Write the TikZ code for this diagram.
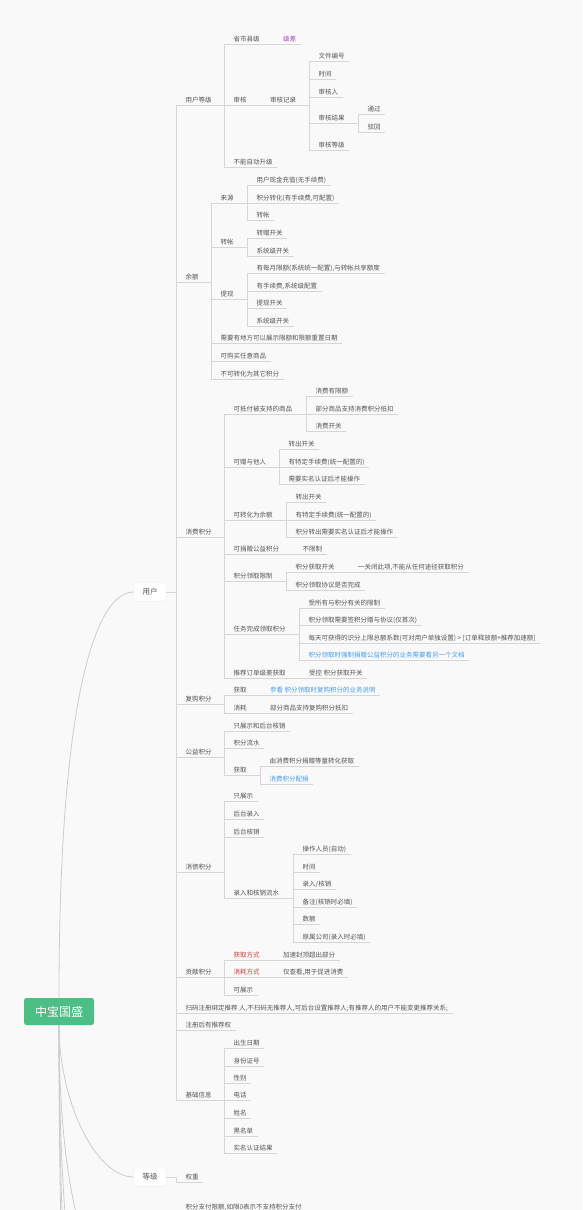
\documentclass[tikz,border=0pt]{standalone}
\usepackage{fontspec}
\newfontfamily\cjk{Noto Sans CJK SC}
\usetikzlibrary{positioning,shadows}
\definecolor{paper}{HTML}{F9F9F9}
\definecolor{ln}{HTML}{D6D6D6}
\definecolor{stemgray}{HTML}{CDCDCD}
\definecolor{txt}{HTML}{555555}
\definecolor{rootgreen}{HTML}{4DBF86}
\definecolor{linkblue}{HTML}{4A9EEB}
\definecolor{redtxt}{HTML}{CF3F35}
\definecolor{purpletxt}{HTML}{A647C6}
\newcommand{\fork}[3]{\draw[branch] ([xshift=-9.5pt]#1.south west) -| ([xshift=-9.5pt]#2.south west) ([xshift=-9.5pt]#1.south west) -| ([xshift=-9.5pt]#3.south west);}

\begin{document}
\begin{tikzpicture}[x=1pt,y=-1pt]
	\tikzset{
		topic/.style={anchor=south west,inner xsep=0pt,inner ysep=1.4pt,text height=5.6pt,text depth=1.3pt,font=\cjk\fontsize{6.5}{7}\selectfont,text=txt},
		branch/.style={draw=ln,line width=0.7pt},
		leaf/.style={topic,append after command={([xshift=-9.5pt]\tikzlastnode.south west) edge[branch] ([xshift=4.5pt]\tikzlastnode.south east)}},
		tail/.style={leaf,base right=23pt of #1},
		mainbox/.style={fill=white,draw=black!6,rounded corners=2pt,minimum width=32pt,minimum height=18pt,inner sep=0pt,font=\cjk\fontsize{7.5}{9}\selectfont,text=txt,drop shadow={opacity=0.06,shadow xshift=0pt,shadow yshift=-0.8pt}},
		rootbox/.style={fill=rootgreen,rounded corners=2.5pt,minimum width=70pt,minimum height=27pt,inner sep=0pt,font=\cjk\fontsize{12}{14}\selectfont,text=white},
		stem/.style={draw=stemgray,line width=0.8pt},
	}
	\useasboundingbox (0,0) rectangle (582,1210);
	\fill[paper] (0,0) rectangle (582,1210);
	\clip (0,0) rectangle (582,1210);

	\node[mainbox] (yh) at (150,592) {用户};
	\node[mainbox] (dj) at (150,1177) {等级};
	\node[rootbox] (root) at (59,1011.5) {中宝国盛};
	\coordinate (more1) at (134,1300);
	\coordinate (more2) at (134,1450);
	\coordinate (more3) at (134,1600);
	\coordinate (more4) at (134,1800);
	\draw[stem] (root.north) .. controls (59,700) and (95,592) .. (yh.west);
	\draw[stem] (root.south) .. controls (59,1100) and (95,1177) .. (dj.west);
	\draw[stem] (root.south) .. controls (59,1217) and (95,1300) .. (more1);
	\draw[stem] (root.south) .. controls (59,1322) and (95,1450) .. (more2);
	\draw[stem] (root.south) .. controls (59,1427) and (95,1600) .. (more3);
	\draw[stem] (root.south) .. controls (59,1567) and (95,1800) .. (more4);

	\node[topic] (yhdj) at (185.5,105.5) {用户等级};
	\node[topic] (ye) at (185.5,282) {余额};
	\node[topic] (xfjf) at (185.5,537) {消费积分};
	\node[topic] (fgjf) at (185.5,704) {复购积分};
	\node[topic] (gyjf) at (185.5,757) {公益积分};
	\node[topic] (xzjf) at (185.5,872) {消债积分};
	\node[topic] (gxjf) at (185.5,977.5) {贡献积分};
	\node[leaf] (smzc) at (185.5,1013) {扫码注册绑定推荐 人,不扫码无推荐人,可后台设置推荐人;有推荐人的用户不能变更推荐关系;};
	\node[leaf] (zctj) at (185.5,1030.5) {注册后有推荐权};
	\node[topic] (jcxx) at (185.5,1100.5) {基础信息};
	\draw[branch] (yh.east) -| ([xshift=-9.5pt]yhdj.south west) (yh.east) -| ([xshift=-9.5pt]jcxx.south west);

	\node[topic] (ssxj) at (233.5,44) {省市县级};
	\node[tail=ssxj,text=purpletxt] (jc) {级差};
	\node[topic] (sh) at (233.5,105.5) {审核};
	\node[topic,base right=23pt of sh] (shjl) {审核记录};
	\node[leaf] (bnzd) at (233.5,167) {不能自动升级};
	\node[leaf] (wjbh) at (318.5,61.7) {文件编号};
	\node[leaf] (sj1) at (318.5,79.3) {时间};
	\node[leaf] (shr) at (318.5,97) {审核人};
	\node[topic] (shjg) at (318.5,123.3) {审核结果};
	\node[leaf] (tg) at (367.5,114.5) {通过};
	\node[leaf] (bh) at (367.5,132) {驳回};
	\node[leaf] (shdj) at (318.5,150) {审核等级};
	\fork{yhdj}{ssxj}{bnzd}
	\fork{ssxj}{jc}{jc}
	\fork{sh}{shjl}{shjl}
	\fork{shjl}{wjbh}{shdj}
	\fork{shjg}{tg}{bh}

	\node[topic] (ly) at (220.5,203) {来源};
	\node[leaf] (xjcz) at (256.5,185) {用户现金充值(无手续费)};
	\node[leaf] (jfzh) at (256.5,203) {积分转化(有手续费,可配置)};
	\node[leaf] (zz1) at (256.5,220.5) {转帐};
	\node[topic] (zz) at (220.5,247) {转帐};
	\node[leaf] (zzkg) at (256.5,238) {转赠开关};
	\node[leaf] (xtkg1) at (256.5,256) {系统级开关};
	\node[topic] (tx) at (220.5,299.5) {提现};
	\node[leaf] (myxe) at (256.5,273) {有每月限额(系统统一配置),与转帐共享额度};
	\node[leaf] (ysxf) at (256.5,291) {有手续费,系统级配置};
	\node[leaf] (txkg) at (256.5,308.5) {提现开关};
	\node[leaf] (xtkg2) at (256.5,326) {系统级开关};
	\node[leaf] (xyyd) at (220.5,343.5) {需要有地方可以展示限额和限额重置日期};
	\node[leaf] (kgm) at (220.5,361) {可购买任意商品};
	\node[leaf] (bkzh) at (220.5,379) {不可转化为其它积分};
	\fork{ye}{ly}{bkzh}
	\fork{ly}{xjcz}{zz1}
	\fork{zz}{zzkg}{xtkg1}
	\fork{tx}{myxe}{xtkg2}

	\node[topic] (kdf) at (233.5,414) {可抵付被支持的商品};
	\node[leaf] (xfxe) at (315.5,396.5) {消费有限额};
	\node[leaf] (bfsp) at (315.5,414) {部分商品支持消费积分抵扣};
	\node[leaf] (xfkg) at (315.5,431.5) {消费开关};
	\node[topic] (kzy) at (233.5,467) {可赠与他人};
	\node[leaf] (zckg1) at (288.5,449.5) {转出开关};
	\node[leaf] (tdsx1) at (288.5,467) {有特定手续费(统一配置的)};
	\node[leaf] (smrz1) at (288.5,484.5) {需要实名认证后才能操作};
	\node[topic] (kzye) at (233.5,520) {可转化为余额};
	\node[leaf] (zckg2) at (295.5,502) {转出开关};
	\node[leaf] (tdsx2) at (295.5,520) {有特定手续费(统一配置的)};
	\node[leaf] (smrz2) at (295.5,537) {积分转出需要实名认证后才能操作};
	\node[topic] (kjz) at (233.5,554.5) {可捐赠公益积分};
	\node[tail=kjz] (bxz) {不限制};
	\node[topic] (jflq) at (233.5,581) {积分领取限制};
	\node[topic] (hqkg) at (295.5,572.5) {积分获取开关};
	\node[tail=hqkg] (gbcx) {一关闭此项,不能从任何途径获取积分};
	\node[leaf] (lqxy) at (295.5,590) {积分领取协议是否完成};
	\node[topic] (rwwc) at (233.5,634) {任务完成领取积分};
	\node[leaf] (ssyx) at (308.5,608) {受所有与积分有关的限制};
	\node[leaf] (qzxy) at (308.5,625.5) {积分领取需要签积分赠与协议(仅首次)};
	\node[leaf] (mtsx) at (308.5,643) {每天可获得的识分上限总额系数(可对用户单独设置) > [订单释放额+推荐加速额]};
	\node[leaf,text=linkblue] (qzjz) at (308.5,660.5) {积分领取时强制捐赠公益积分的业务需要看另一个文档};
	\node[topic] (tjdd) at (233.5,678) {推荐订单级差获取};
	\node[tail=tjdd] (skkg) {受控 积分获取开关};
	\fork{xfjf}{kdf}{tjdd}
	\fork{kdf}{xfxe}{xfkg}
	\fork{kzy}{zckg1}{smrz1}
	\fork{kzye}{zckg2}{smrz2}
	\fork{kjz}{bxz}{bxz}
	\fork{jflq}{hqkg}{lqxy}
	\fork{hqkg}{gbcx}{gbcx}
	\fork{rwwc}{ssyx}{qzjz}
	\fork{tjdd}{skkg}{skkg}

	\node[topic] (fghq) at (233.5,695.5) {获取};
	\node[tail=fghq,text=linkblue] (ckfg) {参看 积分领取时复购积分的业务说明};
	\node[topic] (fgxh) at (233.5,713) {消耗};
	\node[tail=fgxh] (fgdk) {部分商品支持复购积分抵扣};
	\fork{fgjf}{fghq}{fgxh}
	\fork{fghq}{ckfg}{ckfg}
	\fork{fgxh}{fgdk}{fgdk}

	\node[leaf] (zzhx) at (233.5,731) {只展示和后台核销};
	\node[leaf] (jfls) at (233.5,748.5) {积分流水};
	\node[topic] (gyhq) at (233.5,775.5) {获取};
	\node[leaf] (djzh) at (269.5,766) {由消费积分捐赠等量转化获取};
	\node[leaf,text=linkblue] (xfpj) at (269.5,784) {消费积分配捐};
	\fork{gyjf}{zzhx}{gyhq}
	\fork{gyhq}{djzh}{xfpj}

	\node[leaf] (zzs) at (233.5,801) {只展示};
	\node[leaf] (htlr) at (233.5,819) {后台录入};
	\node[leaf] (hthx) at (233.5,837) {后台核销};
	\node[topic] (lrls) at (233.5,898) {录入和核销流水};
	\node[leaf] (czry) at (302.5,854) {操作人员(自动)};
	\node[leaf] (sj2) at (302.5,872) {时间};
	\node[leaf] (lrhx) at (302.5,889.5) {录入/核销};
	\node[leaf] (bz) at (302.5,907) {备注(核销时必填)};
	\node[leaf] (se) at (302.5,924.5) {数额};
	\node[leaf] (ysgs) at (302.5,942) {原属公司(录入时必填)};
	\fork{xzjf}{zzs}{lrls}
	\fork{lrls}{czry}{ysgs}

	\node[topic,text=redtxt] (hqfs) at (233.5,960) {获取方式};
	\node[tail=hqfs] (jsfd) {加速封顶超出部分};
	\node[topic,text=redtxt] (xhfs) at (233.5,977.5) {消耗方式};
	\node[tail=xhfs] (jckx) {仅查看,用于促进消费};
	\node[leaf] (kzs) at (233.5,995) {可展示};
	\fork{gxjf}{hqfs}{kzs}
	\fork{hqfs}{jsfd}{jsfd}
	\fork{xhfs}{jckx}{jckx}

	\node[leaf] (csrq) at (233.5,1048) {出生日期};
	\node[leaf] (sfzh) at (233.5,1066) {身份证号};
	\node[leaf] (xb) at (233.5,1083) {性别};
	\node[leaf] (dh) at (233.5,1100.5) {电话};
	\node[leaf] (xm) at (233.5,1118) {姓名};
	\node[leaf] (hmd) at (233.5,1136) {黑名单};
	\node[leaf] (smjg) at (233.5,1153) {实名认证结果};
	\fork{jcxx}{csrq}{smjg}

	\node[leaf] (qz) at (185.5,1182.5) {权重};
	\draw[branch] (dj.east) -| ([xshift=-9.5pt]qz.south west);
	\node[leaf] (zfxe) at (185.5,1212.5) {积分支付限额,如限0表示不支持积分支付};
\end{tikzpicture}
\end{document}
